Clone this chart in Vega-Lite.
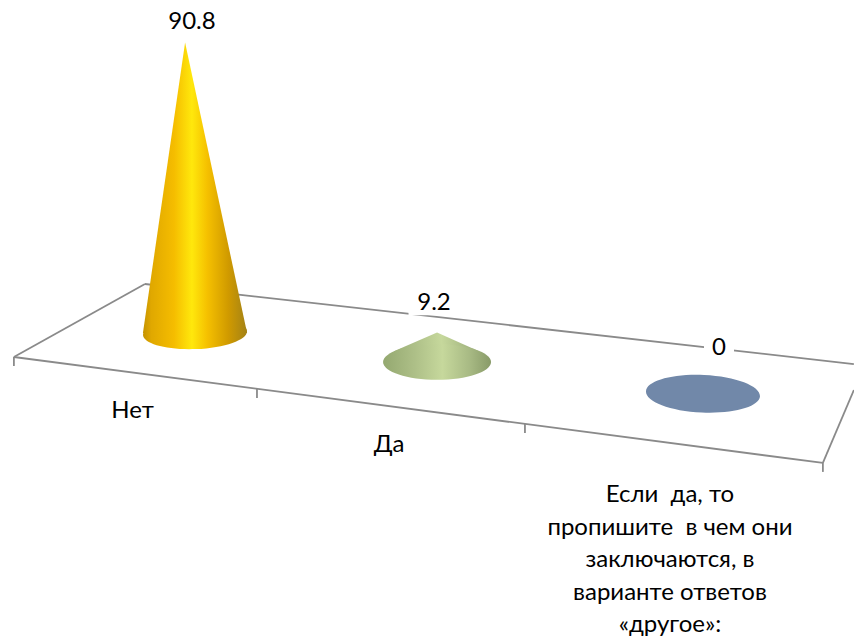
{
"$schema":"https://vega.github.io/schema/vega-lite/v6.json",
"width":854,"height":637,"padding":0,
"autosize":{"type":"none"},
"background":"white",
"config":{"view":{"stroke":null}},
"datasets":{
"floor":[
{"edge":"left","pos":0.287,"level":-7.5},{"edge":"left","pos":0.803,"level":15.31},
{"edge":"back","pos":0.803,"level":15.31},{"edge":"back","pos":3.594,"level":-9.69},
{"edge":"front","pos":0.287,"level":-7.5},{"edge":"front","pos":3.472,"level":-40.6},
{"edge":"right","pos":3.472,"level":-40.6},{"edge":"right","pos":3.594,"level":-17.81}],
"ticks":[
{"pos":0.287,"level":-7.5,"end":-10.3},{"pos":1.244,"level":-17.34,"end":-20.3},
{"pos":2.299,"level":-28.4,"end":-31.25},{"pos":3.472,"level":-40.6,"end":-43.4}],
"names":[
{"name":"Нет","pos":0.754,"level":-20.6},
{"name":"Да","pos":1.764,"level":-31.25},
{"name":"Если\u00a0\u00a0да, то\nпропишите\u00a0\u00a0в чем они\nзаключаются, в\nварианте ответов\n«другое»:","pos":2.870,"level":-46.9}],
"cones":[
{"category":"Нет","pos":0.795,"value":0},{"category":"Нет","pos":0.961,"value":90.8},{"category":"Нет","pos":1.205,"value":0},
{"category":"Да","pos":1.783,"value":3.4},{"category":"Да","pos":1.953,"value":9.2},{"category":"Да","pos":2.118,"value":3.4}],
"bases":[{"category":"Нет","pos":1.0,"value":0},{"category":"Да","pos":1.953,"value":0},{"category":"Если да","pos":3.0,"value":0}],
"labels":[{"category":"Нет","pos":0.988,"value":90.8},{"category":"Да","pos":1.941,"value":9.2},{"category":"Если да","pos":3.063,"value":0}]
},
"encoding":{"x":{"field":"pos","type":"quantitative","axis":null,"scale":{"domain":[0.2323,3.5945],"nice":false,"zero":false}}},
"layer":[
{"data":{"name":"floor"},"mark":{"type":"line","stroke":"#8a8a8a","strokeWidth":1.8},
 "encoding":{"y":{"field":"level","type":"quantitative","axis":null,"scale":{"domain":[-94.99,104.06],"nice":false,"zero":false}},"detail":{"field":"edge"}}},
{"data":{"name":"ticks"},"mark":{"type":"rule","stroke":"#8a8a8a","strokeWidth":1.8},
 "encoding":{"y":{"field":"level","type":"quantitative","axis":null,"scale":{"domain":[-94.99,104.06],"nice":false,"zero":false}},"y2":{"field":"end"}}},
{"data":{"name":"names"},"mark":{"type":"text","font":"Lato","fontSize":24,"color":"#000000","baseline":"top","align":"center","lineBreak":"\n","lineHeight":32.5},
 "encoding":{"y":{"field":"level","type":"quantitative","axis":null,"scale":{"domain":[-94.99,104.06],"nice":false,"zero":false}},"text":{"field":"name"}}},
{"data":{"name":"labels"},"transform":[{"filter":"datum.category==='Да'"}],"mark":{"type":"point","filled":true,"fill":"white","opacity":1,"stroke":null,"size":2601,"yOffset":-30,"shape":"M-1,-0.5H1V0.5H-1Z"},
 "encoding":{"y":{"field":"value","type":"quantitative","axis":null,"scale":{"domain":[-85.9,113.1],"nice":false,"zero":false}}}},
{"data":{"name":"labels"},"transform":[{"filter":"datum.category==='Если да'"}],"mark":{"type":"point","filled":true,"fill":"white","opacity":1,"stroke":null,"size":900,"yOffset":-46,"shape":"M-1,-0.5H1V0.5H-1Z"},
 "encoding":{"y":{"field":"value","type":"quantitative","axis":null,"scale":{"domain":[-76,123],"nice":false,"zero":false}}}},
{"data":{"name":"cones"},"transform":[{"filter":"datum.category==='Нет'"}],"mark":{"type":"area","orient":"vertical","stroke":null,"fill":{"gradient":"linear","x1":0,"x2":1,"y1":0,"y2":0,"stops":[{"offset":0,"color":"#c49200"},{"offset":0.08,"color":"#e0a800"},{"offset":0.3,"color":"#f5bd00"},{"offset":0.47,"color":"#ffe80c"},{"offset":0.62,"color":"#f5c000"},{"offset":0.82,"color":"#d09a00"},{"offset":1,"color":"#a38216"}]}},
 "encoding":{"y":{"field":"value","type":"quantitative","stack":null,"axis":null,"scale":{"domain":[-94.99,104.06],"nice":false,"zero":false}}}},
{"data":{"name":"bases"},"transform":[{"filter":"datum.category==='Нет'"}],"mark":{"type":"point","filled":true,"opacity":1,"stroke":null,"size":10816,"shape":"M-1,0.04A1,0.31,-2.2,1,0,1,-0.04A1,0.31,-2.2,1,0,-1,0.04Z","fill":{"gradient":"linear","x1":0,"x2":1,"y1":0,"y2":0,"stops":[{"offset":0,"color":"#c49200"},{"offset":0.08,"color":"#e0a800"},{"offset":0.3,"color":"#f5bd00"},{"offset":0.47,"color":"#ffe80c"},{"offset":0.62,"color":"#f5c000"},{"offset":0.82,"color":"#d09a00"},{"offset":1,"color":"#a38216"}]}},
 "encoding":{"y":{"field":"value","type":"quantitative","axis":null,"scale":{"domain":[-94.99,104.06],"nice":false,"zero":false}}}},
{"data":{"name":"cones"},"transform":[{"filter":"datum.category==='Да'"}],"mark":{"type":"area","orient":"vertical","stroke":null,"fill":{"gradient":"linear","x1":0,"x2":1,"y1":0,"y2":0,"stops":[{"offset":0,"color":"#9db178"},{"offset":0.25,"color":"#aec088"},{"offset":0.56,"color":"#c6d89c"},{"offset":0.8,"color":"#adbf88"},{"offset":1,"color":"#96a873"}]}},
 "encoding":{"y":{"field":"value","type":"quantitative","stack":null,"axis":null,"scale":{"domain":[-85.9,113.1],"nice":false,"zero":false}}}},
{"data":{"name":"bases"},"transform":[{"filter":"datum.category==='Да'"}],"mark":{"type":"point","filled":true,"opacity":1,"stroke":null,"size":11664,"shape":"M-1,0A1,0.33,0,1,0,1,0A1,0.33,0,1,0,-1,0Z","fill":{"gradient":"linear","x1":0,"x2":1,"y1":0,"y2":0,"stops":[{"offset":0,"color":"#94a870"},{"offset":0.3,"color":"#aec088"},{"offset":0.55,"color":"#c6d89c"},{"offset":0.8,"color":"#a8ba84"},{"offset":1,"color":"#889a68"}]}},
 "encoding":{"y":{"field":"value","type":"quantitative","axis":null,"scale":{"domain":[-85.9,113.1],"nice":false,"zero":false}}}},
{"data":{"name":"bases"},"transform":[{"filter":"datum.category==='Если да'"}],"mark":{"type":"point","filled":true,"opacity":1,"stroke":null,"fill":"#7188a9","size":12996,"shape":"M-1,-0.045A1,0.33,2.5,1,0,1,0.045A1,0.33,2.5,1,0,-1,-0.045Z"},
 "encoding":{"y":{"field":"value","type":"quantitative","axis":null,"scale":{"domain":[-76,123],"nice":false,"zero":false}}}},
{"data":{"name":"labels"},"transform":[{"filter":"datum.category==='Нет'"}],"mark":{"type":"text","font":"Lato","fontSize":24,"color":"#000000","baseline":"middle","yOffset":-20},
 "encoding":{"y":{"field":"value","type":"quantitative","axis":null,"scale":{"domain":[-94.99,104.06],"nice":false,"zero":false}},"text":{"field":"value","type":"quantitative"}}},
{"data":{"name":"labels"},"transform":[{"filter":"datum.category==='Да'"}],"mark":{"type":"text","font":"Lato","fontSize":24,"color":"#000000","baseline":"middle","yOffset":-30},
 "encoding":{"y":{"field":"value","type":"quantitative","axis":null,"scale":{"domain":[-85.9,113.1],"nice":false,"zero":false}},"text":{"field":"value","type":"quantitative"}}},
{"data":{"name":"labels"},"transform":[{"filter":"datum.category==='Если да'"}],"mark":{"type":"text","font":"Lato","fontSize":24,"color":"#000000","baseline":"middle","yOffset":-46},
 "encoding":{"y":{"field":"value","type":"quantitative","axis":null,"scale":{"domain":[-76,123],"nice":false,"zero":false}},"text":{"field":"value","type":"quantitative"}}}
],
"resolve":{"scale":{"y":"independent"}}
}
